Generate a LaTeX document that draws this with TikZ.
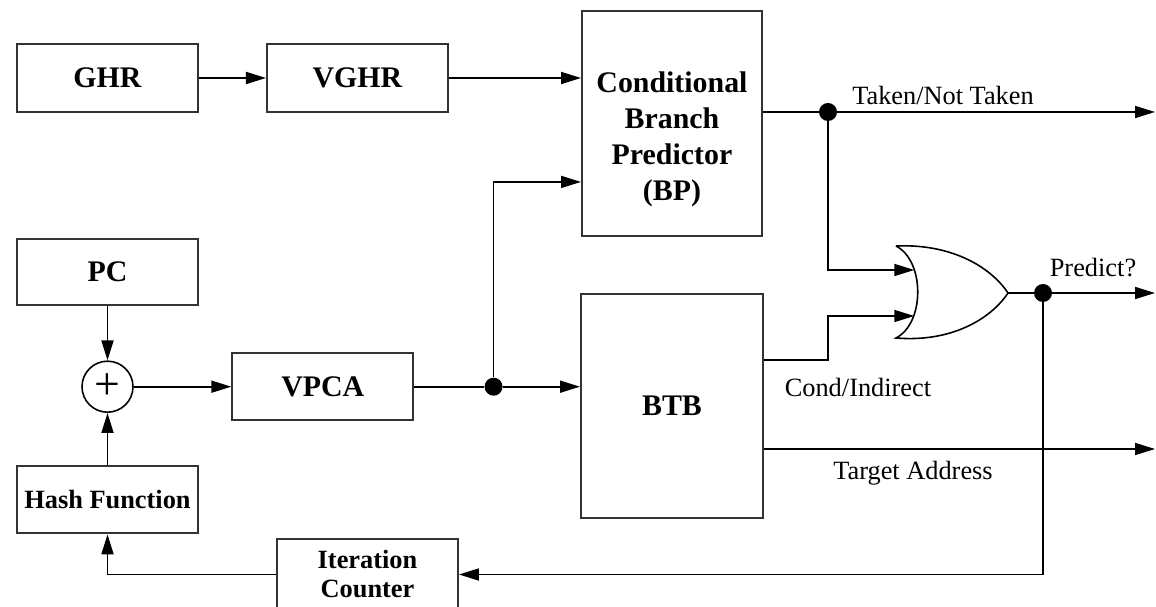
\documentclass[tikz,border=0pt]{standalone}
\usepackage{fontspec}
\setmainfont{Liberation Serif}
\usetikzlibrary{positioning,calc,arrows.meta}

\begin{document}
\begin{tikzpicture}[
    box/.style={draw=black!80, line width=1.1pt, rectangle, minimum width=3.62cm, minimum height=1.36cm, align=center, font=\fontsize{17}{20.5}\selectfont\bfseries},
    smallbox/.style={box, font=\fontsize{15}{16.5}\selectfont\bfseries},
    sum/.style={draw, line width=0.9pt, circle, minimum size=1.02cm, inner sep=0pt, font=\fontsize{26}{26}\selectfont},
    dot/.style={fill, circle, minimum size=0.36cm, inner sep=0pt},
    lbl/.style={font=\fontsize{15}{18}\selectfont},
    wire/.style={line width=1pt},
    arrow/.style={line width=1pt, -{Triangle[length=4mm, width=2.4mm]}}
]
    \useasboundingbox (0,0) rectangle (23.12,12.12);

    % Draw nodes
    \node (ghr) [box] at (2.15,10.56) {GHR};
    \node (vghr) [box, right=1.34cm of ghr] {VGHR};
    \node (bp) [box, minimum width=3.6cm, minimum height=4.5cm, text height=91pt, anchor=north west] at (11.62,11.92) {Conditional\\Branch\\Predictor\\(BP)};
    \node (pc) [box, below=2.5cm of ghr, minimum height=1.32cm] {PC};
    \node (adder) [sum, below=1.09cm of pc] {+};
    \node (hash) [smallbox, below=1.05cm of adder, minimum height=1.34cm] {Hash Function};
    \node (vpca) [box, right=1.95cm of adder, minimum height=1.34cm] {VPCA};
    \node (jdot) [dot, right=1.4cm of vpca] {};
    \node (btb) [box, minimum width=3.64cm, minimum height=4.48cm, anchor=north west] at (11.60,6.26) {BTB};
    \node (iter) [smallbox, minimum height=1.42cm] at (7.35,0.63) {Iteration\\Counter};

    % OR gate
    \draw[line width=0.9pt] (17.92,7.20) .. controls (18.5,6.9) and (18.5,5.66) .. (17.92,5.36)
        .. controls (19.0,5.27) and (19.8,5.72) .. (20.16,6.26)
        .. controls (19.8,6.8) and (19.0,7.25) .. (17.92,7.20);
    \coordinate (orin1) at (18.285,6.72);
    \coordinate (orin2) at (18.285,5.80);
    \coordinate (orout) at (20.16,6.26);

    \node (tdot) [dot] at (16.56,9.88) {};
    \node (pdot) [dot] at (20.86,6.26) {};
    \coordinate (bpin) at ($(bp.south west)+(0,1.1)$);
    \coordinate (condout) at ($(btb.north east)+(0,-1.34)$);
    \coordinate (takenout) at (23.1,9.88);
    \coordinate (predout) at (23.1,6.26);
    \coordinate (targetout) at (23.1,3.14);

    % Labels
    \node (takenlbl) [lbl] at (18.86,10.22) {Taken/Not Taken};
    \node (predlbl) [lbl] at (21.86,6.76) {Predict?};
    \node (condlbl) [lbl] at (17.16,4.38) {Cond/Indirect};
    \node (targetlbl) [lbl] at (18.26,2.66) {Target Address};

    % Draw connections
    \draw [arrow] (ghr) -- (vghr);
    \draw [arrow] (vghr) -- (bp.west |- vghr);
    \draw [arrow] (pc) -- (adder);
    \draw [arrow] (hash) -- (adder);
    \draw [arrow] (adder) -- (vpca);
    \draw [wire] (vpca) -- (jdot);
    \draw [arrow] (jdot) -- (btb.west |- jdot);
    \draw [arrow] (jdot) |- (bpin);

    \draw [wire] (bp.east |- tdot) -- (tdot);
    \draw [arrow] (tdot) -- (takenout);
    \draw [arrow] (tdot) |- (orin1);
    \draw [arrow] (condout) -| (tdot |- orin2) -- (orin2);
    \draw [arrow] (btb.east |- targetout) -- (targetout);

    \draw [wire] (orout) -- (pdot);
    \draw [arrow] (pdot) -- (predout);
    \draw [arrow] (pdot) |- (iter.east);
    \draw [arrow] (iter.west) -| (hash.south);

\end{tikzpicture}
\end{document}
